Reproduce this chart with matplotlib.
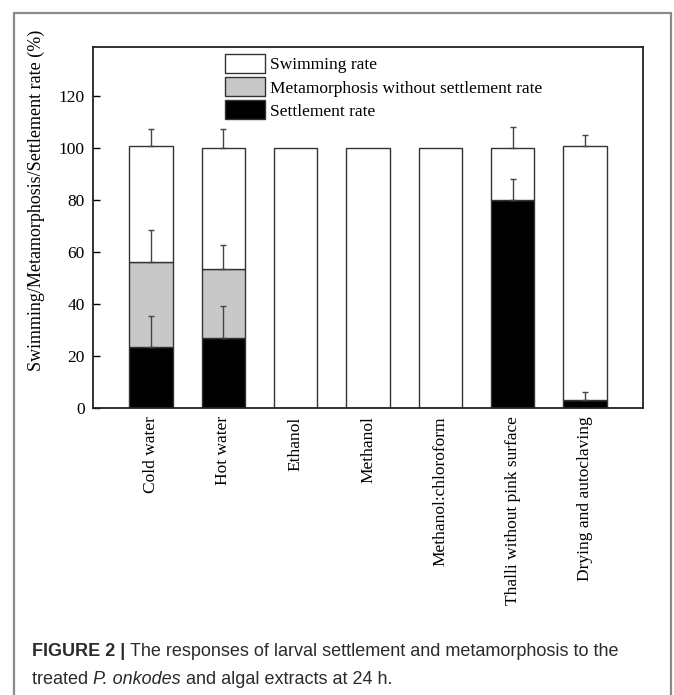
import numpy as np
import matplotlib
matplotlib.use('Agg')
import matplotlib.pyplot as plt
from matplotlib.patches import Rectangle, Patch

plt.rcParams['font.family'] = ['Liberation Serif', 'DejaVu Serif']

# data (values in %)
categories = ['Cold water', 'Hot water', 'Ethanol', 'Methanol', 'Methanol:chloroform',
              'Thalli without pink surface', 'Drying and autoclaving']
settlement = [23.4, 26.8, 0, 0, 0, 80.0, 3.0]
settlement_err = [12.2, 12.3, 0, 0, 0, 8.1, 3.0]
metamorphosis = [32.7, 26.6, 0, 0, 0, 0, 0]
metamorphosis_err = [12.3, 9.2, 0, 0, 0, 0, 0]
swimming = [44.9, 46.6, 100, 100, 100, 20.0, 98.0]
swimming_err = [6.4, 7.4, 0, 0, 0, 8.2, 4.0]

yticks = [0, 20, 40, 60, 80, 100, 120]

W, H = 674, 695
fig = plt.figure(figsize=(W / 100, H / 100), dpi=100)

# outer grey frame of the journal figure
fig.patches.append(Rectangle((14 / W, -0.02), (671 - 14) / W, 1.02 - 13 / H,
                             transform=fig.transFigure, fill=False,
                             edgecolor='#8a8a8a', linewidth=1.6))

ax = fig.add_axes([93 / W, 1 - 408 / H, 550 / W, 361 / H])

x = np.arange(len(categories))
settle = np.array(settlement)
meta = np.array(metamorphosis)
swim = np.array(swimming)
ec = '#333333'
bw = 0.6

ax.bar(x, settle, bw, color='black', edgecolor=ec, linewidth=1, label='Settlement rate', zorder=2)
ax.bar(x, meta, bw, bottom=settle, color='#c8c8c8', edgecolor=ec, linewidth=1,
       label='Metamorphosis without settlement rate', zorder=2)
ax.bar(x, swim, bw, bottom=settle + meta, color='white', edgecolor=ec, linewidth=1,
       label='Swimming rate', zorder=2)

# one-sided (upward) error bars at the top of each segment
tops = [settle, settle + meta, settle + meta + swim]
errs = [settlement_err, metamorphosis_err, swimming_err]
for top, err in zip(tops, errs):
    err = np.array(err)
    m = err > 0
    ax.errorbar(x[m], top[m], yerr=[np.zeros(m.sum()), err[m]], fmt='none',
                ecolor='#444444', elinewidth=1, capsize=2.0, capthick=1, zorder=3)

ax.set_xlim(-0.8, 6.8)
ax.set_ylim(0, 139)
ax.set_yticks(yticks)
ax.set_xticks(x)
ax.set_xticklabels(categories, rotation=90, fontsize=12.5, va='top')
ax.tick_params(axis='x', length=0, pad=6)
ax.tick_params(axis='y', direction='in', length=5, width=1, labelsize=12.5, pad=6)
for s in ax.spines.values():
    s.set_linewidth(1.3)
    s.set_color('#222222')

ax.set_ylabel('Swimming/Metamorphosis/Settlement rate (%)', fontsize=13)
ax.yaxis.set_label_coords(-0.088, 0.575)

h, l = ax.get_legend_handles_labels()
ax.legend(h[::-1], l[::-1], loc='upper left', bbox_to_anchor=(0.24, 0.98),
          frameon=False, fontsize=12.5, handlelength=2.3, handleheight=1.3,
          handletextpad=0.3, labelspacing=0.22, borderpad=0, borderaxespad=0)

# caption, drawn piece by piece so bold/italic parts line up
renderer = fig.canvas.get_renderer()
cap_font = ['Liberation Sans', 'DejaVu Sans']
cap_size = 13.0

def put_line(pieces, xpix, ypix):
    xp = xpix
    for txt, weight, style in pieces:
        t = fig.text(xp / W, 1 - ypix / H, txt, fontsize=cap_size, family=cap_font,
                     weight=weight, style=style, va='center', ha='left', color='#2b2b2b')
        bb = t.get_window_extent(renderer)
        xp += bb.width

put_line([('FIGURE 2 | ', 'bold', 'normal'),
          ('The responses of larval settlement and metamorphosis to the', 'normal', 'normal')],
         32, 652)
put_line([('treated ', 'normal', 'normal'),
          ('P. onkodes', 'normal', 'italic'),
          (' and algal extracts at 24 h.', 'normal', 'normal')],
         32, 680)

fig.savefig('out.png', dpi=100)
